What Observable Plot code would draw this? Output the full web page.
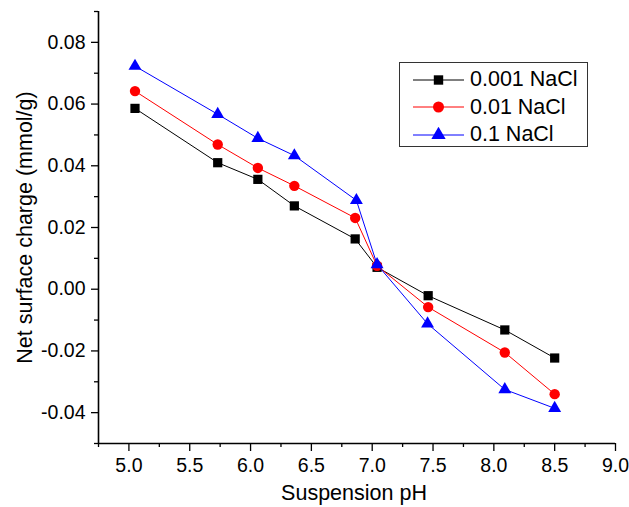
<!DOCTYPE html>
<html>
<head>
<meta charset="utf-8">
<script src="https://cdn.jsdelivr.net/npm/d3@7"></script>
<script src="https://cdn.jsdelivr.net/npm/@observablehq/plot@0.6"></script>
<style>
  html, body { margin: 0; padding: 0; background: #fff; }
  #wrap { position: relative; width: 629px; height: 507px; font-family: "Liberation Sans", Arial, sans-serif; }
  #legend { position: absolute; left: 399px; top: 62px; width: 189px; height: 85px; box-sizing: border-box;
            border: 1px solid #333; background: #fff; padding-top: 3px; }
  .row { display: flex; align-items: center; height: 27.5px; }
  .row svg { margin-left: 13px; }
  .row span { font-size: 21.5px; margin-left: 6px; color: #000; line-height: 1; }
</style>
</head>
<body>
<div id="wrap"></div>
<script>
// ---- data ----
const seriesNames = ["0.001 NaCl", "0.01 NaCl", "0.1 NaCl"];
const seriesColors = ["#000000", "#ff0000", "#0000ff"];
const seriesSymbols = ["square", "circle", "triangle"];

const pH_0001 = [5.05, 5.73, 6.06, 6.36, 6.86, 7.04, 7.46, 8.09, 8.50];
const charge_0001 = [0.0586, 0.0410, 0.0356, 0.0270, 0.0163, 0.0071, -0.0021, -0.0132, -0.0223];

const pH_001 = [5.05, 5.73, 6.06, 6.36, 6.86, 7.04, 7.46, 8.09, 8.50];
const charge_001 = [0.0642, 0.0469, 0.0393, 0.0335, 0.0231, 0.0076, -0.0058, -0.0205, -0.0340];

const pH_01 = [5.05, 5.73, 6.06, 6.36, 6.87, 7.04, 7.455, 8.09, 8.50];
const charge_01 = [0.0723, 0.0567, 0.0489, 0.0433, 0.0288, 0.0080, -0.0112, -0.0325, -0.0386];

const xDomain = [4.75, 9.0];
const yDomain = [-0.05, 0.09];
const xMajorTicks = [5.0, 5.5, 6.0, 6.5, 7.0, 7.5, 8.0, 8.5, 9.0];
const xMinorTicks = [4.75, 5.25, 5.75, 6.25, 6.75, 7.25, 7.75, 8.25, 8.75];
const yMajorTicks = [-0.04, -0.02, 0.00, 0.02, 0.04, 0.06, 0.08];
const yMinorTicks = [-0.05, -0.03, -0.01, 0.01, 0.03, 0.05, 0.07, 0.09];
const xTitle = "Suspension pH";
const yTitle = "Net surface charge (mmol/g)";

// ---- build ----
const allX = [pH_0001, pH_001, pH_01];
const allY = [charge_0001, charge_001, charge_01];
const seriesData = allX.map((xs, i) => xs.map((x, j) => ({x, y: allY[i][j], s: seriesNames[i]})));

const seriesMarks = seriesData.flatMap((data, i) => [
  Plot.line(data, {x: "x", y: "y", stroke: seriesColors[i], strokeWidth: 1}),
  Plot.dot(data, {x: "x", y: "y", symbol: () => seriesSymbols[i], fill: seriesColors[i], stroke: "none",
                  r: seriesSymbols[i] === "triangle" ? 4.8 : 5.2})
]);

const chart = Plot.plot({
  width: 629,
  height: 507,
  marginLeft: 98,
  marginRight: 14,
  marginTop: 11,
  marginBottom: 64,
  style: {fontFamily: '"Liberation Sans", Arial, sans-serif', fontSize: "19.5px", color: "#000", background: "#fff"},
  x: {domain: xDomain, axis: null},
  y: {domain: yDomain, axis: null},
  symbol: {type: "identity"},
  marks: [
    Plot.ruleX([xDomain[0]], {stroke: "#000", strokeWidth: 1.6}),
    Plot.ruleY([yDomain[0]], {stroke: "#000", strokeWidth: 1.6}),
    Plot.axisY({ticks: yMajorTicks, tickSize: 7, tickPadding: 6, tickFormat: d => d.toFixed(2),
                fontSize: 19.5, strokeWidth: 1.3, stroke: "#000", fill: "#000", label: null}),
    Plot.axisY({ticks: yMinorTicks, tickSize: 4, tickFormat: () => "", strokeWidth: 1.3, stroke: "#000", label: null}),
    Plot.axisX({ticks: xMajorTicks, tickSize: 8, tickPadding: 7, tickFormat: d => d.toFixed(1),
                fontSize: 19.5, strokeWidth: 1.3, stroke: "#000", fill: "#000", label: null}),
    Plot.axisX({ticks: xMinorTicks, tickSize: 4, tickFormat: () => "", strokeWidth: 1.3, stroke: "#000", label: null}),
    Plot.text([xTitle], {frameAnchor: "bottom", dy: 50, dx: -3, fontSize: 21.5, fill: "#000", lineAnchor: "middle"}),
    Plot.text([yTitle], {frameAnchor: "left", dx: -73, rotate: -90, fontSize: 21.5, fill: "#000",
                         lineAnchor: "middle", textAnchor: "middle"}),
    ...seriesMarks
  ]
});

const wrap = document.getElementById("wrap");
wrap.appendChild(chart);

// ---- legend ----
const legend = document.createElement("div");
legend.id = "legend";
seriesNames.forEach((name, i) => {
  const row = document.createElement("div");
  row.className = "row";
  const svg = d3.create("svg").attr("width", 51).attr("height", 16);
  svg.append("line").attr("x1", 0).attr("x2", 51).attr("y1", 8).attr("y2", 8)
     .attr("stroke", seriesColors[i]).attr("stroke-width", 1);
  const sym = {square: d3.symbolSquare, circle: d3.symbolCircle, triangle: d3.symbolTriangle}[seriesSymbols[i]];
  const r = seriesSymbols[i] === "circle" ? 5.5 : 5.3;
  svg.append("path").attr("d", d3.symbol(sym, Math.PI * r * r)())
     .attr("transform", "translate(25.5,8)").attr("fill", seriesColors[i]);
  row.appendChild(svg.node());
  const span = document.createElement("span");
  span.textContent = name;
  row.appendChild(span);
  legend.appendChild(row);
});
wrap.appendChild(legend);
</script>
</body>
</html>
